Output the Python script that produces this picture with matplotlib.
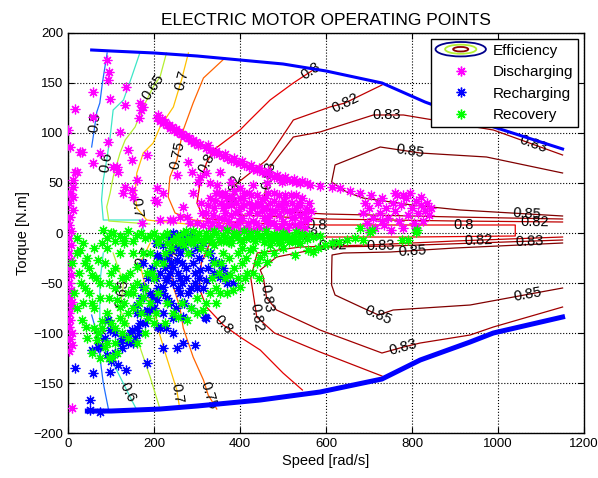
import numpy as np
import matplotlib.pyplot as plt
from matplotlib.legend_handler import HandlerBase
from matplotlib.patches import Ellipse
from matplotlib.lines import Line2D

plt.rcParams['font.family'] = ['Liberation Sans', 'DejaVu Sans']
plt.rcParams['font.size'] = 10

# ---- torque envelope [rad/s, N.m] ----
tmax_speed = [55, 100, 200, 300, 400, 500, 600, 730, 830, 990, 1150]
tmax_torque = [183, 182, 180, 177, 173, 169, 162, 150, 131, 106, 84]
tmin_speed = [45, 100, 214, 300, 447, 586, 730, 819, 935, 989, 1150]
tmin_torque = [-178, -178, -176, -173, -167, -159, -146, -127, -109, -100, -84]

# ---- efficiency contour lines (speed, torque) ----
c50_up = [(91, 180), (80, 150), (74, 130), (67, 121), (60, 100), (55, 86)]
c60_up = [(167, 180), (148, 156), (129, 133), (105, 123), (98, 96), (90, 73),
          (82, 53), (78, 33), (82, 13), (175, 13), (175, 2)]
c65_up = [(229, 180), (214, 156), (198, 146), (175, 126), (156, 106), (133, 93),
          (121, 80), (105, 56), (98, 40), (90, 26), (95, 12), (190, 9)]
c70_up = [(280, 180), (264, 153), (245, 126), (214, 106), (198, 90), (175, 80),
          (160, 60), (156, 40), (160, 25), (183, 13), (300, 8)]
c75_up = [(365, 175), (315, 155), (291, 130), (268, 103), (253, 73), (237, 56),
          (233, 36), (249, 20), (291, 13), (400, 8)]
c80_up = [(570, 163), (524, 150), (470, 133), (423, 113), (400, 103), (338, 83),
          (322, 70), (307, 50), (300, 30), (315, 15), (400, 10), (600, 8),
          (800, 8), (1040, 8), (1040, -3), (800, -4), (600, -4), (560, -3)]
c82_up = [(730, 148), (644, 130), (609, 126), (524, 113), (462, 73), (388, 48),
          (380, 30), (400, 18), (600, 14), (900, 12), (1150, 11)]
c83_up = [(1150, 78), (989, 103), (780, 118), (710, 118), (586, 101), (524, 96),
          (470, 66), (466, 56), (455, 35), (470, 22), (600, 19), (900, 16), (1150, 14)]
c85_up = [(1150, 60), (973, 76), (819, 80), (726, 86), (621, 68), (613, 51),
          (648, 41), (686, 35), (800, 28), (912, 23), (1150, 17)]

c50_dn = [(55, -82), (67, -100), (82, -150), (94, -176)]
c60_dn = [(82, -20), (74, -50), (74, -84), (82, -114), (98, -124), (148, -167), (160, -177)]
c65_dn = [(105, -20), (129, -50), (121, -77), (164, -110), (191, -144), (214, -176)]
c70_dn = [(191, -10), (175, -24), (167, -30), (183, -60), (206, -87), (210, -97),
          (229, -124), (253, -157), (260, -176)]
c75_dn = [(260, -8), (253, -14), (237, -27), (245, -54), (260, -74), (268, -95),
          (291, -124), (315, -147), (326, -162), (346, -176)]
c80_dn = [(560, -3), (450, -5), (330, -10), (310, -30), (305, -55), (322, -74),
          (361, -92), (400, -104), (447, -117), (500, -140), (545, -157)]
c82_dn = [(1150, -4), (900, -8), (700, -12), (540, -14), (440, -20), (425, -45),
          (439, -84), (480, -100), (586, -119), (730, -143)]
c83_dn = [(1150, -7), (950, -10), (750, -13), (602, -14), (485, -24), (447, -37),
          (454, -44), (462, -65), (485, -77), (586, -97), (730, -120), (780, -114),
          (819, -110), (935, -102), (989, -94), (1150, -74)]
c85_dn = [(1150, -10), (900, -15), (750, -19), (640, -20), (614, -22), (613, -40),
          (613, -52), (621, -62), (686, -75), (722, -82), (756, -77), (935, -72),
          (1036, -64), (1150, -55)]

# contour label spots (speed, torque) for each line
lab_spots = {
    'c50_up': [(67, 110)], 'c60_up': [(94, 70)], 'c65_up': [(198, 146)],
    'c70_up': [(264, 153), (160, 25)], 'c75_up': [(253, 78)],
    'c80_up': [(322, 70), (570, 158), (579, 8), (919, 8)],
    'c82_up': [(644, 130), (388, 45), (1086, 11)],
    'c83_up': [(466, 58), (741, 118), (1074, 81)],
    'c85_up': [(795, 80), (1067, 17)],
    'c50_dn': [(60, -104)], 'c60_dn': [(140, -159)], 'c65_dn': [(125, -60)],
    'c70_dn': [(253, -160), (175, -24)], 'c75_dn': [(326, -162), (245, -20)],
    'c80_dn': [(361, -92), (834, -4)],
    'c82_dn': [(439, -84), (954, -8), (614, -14)],
    'c83_dn': [(462, -65), (726, -13), (1074, -8), (779, -114)],
    'c85_dn': [(800, -18), (722, -82), (1071, -64)],
}

levels = {'c50': 0.5, 'c60': 0.6, 'c65': 0.65, 'c70': 0.7, 'c75': 0.75,
          'c80': 0.8, 'c82': 0.82, 'c83': 0.83, 'c85': 0.85}
level_colors = {0.5: '#1E6EFF', 0.6: '#3CE6C8', 0.65: '#B4F032', 0.7: '#FFC000',
                0.75: '#FF6400', 0.8: '#E60000', 0.82: '#BE0000', 0.83: '#A00000',
                0.85: '#800000'}

# ---- operating points (speed, torque) ----
discharging = [
    # left column
    (16, 124), (1, 103), (5, 86), (28, 81), (20, 61), (12, 53), (12, 46), (4, 40),
    (12, 36), (3, 30), (12, 23), (5, 16), (3, 8), (8, 2), (3, -5), (6, -12), (3, -20),
    (6, -27), (3, -35), (6, -42), (3, -50), (6, -57), (3, -64), (9, -69), (9, -74),
    (3, -80), (5, -87), (3, -94), (9, -100), (5, -106), (9, -112), (3, -118), (9, -175),
    # upper left
    (90, 173), (96, 161), (92, 153), (57, 141), (98, 134), (136, 146), (133, 128),
    (167, 130), (175, 126), (170, 123), (59, 116), (164, 115), (121, 101), (94, 91),
    (74, 80), (140, 83), (148, 73), (183, 78), (32, 81), (59, 70), (105, 66), (113, 66),
    (117, 61), (160, 53), (133, 46), (148, 43), (129, 40), (152, 36), (202, 33),
    (206, 31), (222, 40), (214, 13), (237, 13), (245, 13), (260, 16), (268, 26),
    (276, 16), (171, 10), (284, 10), (291, 40), (307, 56), (322, 60), (16, 61),
    # diagonal bands
    (206, 115), (214, 112), (222, 110), (230, 108), (238, 105), (246, 103), (254, 101),
    (262, 99), (270, 97), (278, 95), (286, 92), (294, 90), (302, 88),
    (210, 118), (218, 114), (226, 111), (234, 108), (242, 106), (250, 104), (258, 101),
    (266, 99), (274, 97), (282, 95), (290, 93), (298, 91), (306, 89),
    (322, 85), (330, 83), (340, 80), (350, 79), (360, 77), (370, 75), (380, 73),
    (390, 71), (400, 70), (410, 68), (420, 66), (430, 64), (440, 63), (450, 61),
    (460, 60), (470, 58), (480, 56), (490, 55), (500, 54), (510, 53), (520, 52),
    (530, 51), (540, 50), (555, 50), (563, 48), (586, 47), (613, 46), (633, 45),
    (656, 42), (679, 40),
    (325, 88), (345, 82), (365, 79), (385, 75), (405, 72), (425, 68), (445, 65),
    (465, 62), (485, 58), (505, 56), (525, 54), (545, 52),
    (206, 45), (253, 58), (280, 71), (288, 61), (303, 51), (353, 61), (346, 48),
    (380, 51), (497, 51), (431, 48), (462, 50), (400, 45), (330, 50), (365, 40), (420, 40),
    # main cluster
    (310, 30), (320, 20), (330, 35), (335, 10), (340, 25), (345, 40), (350, 15), (355, 30),
    (360, 5), (365, 20), (370, 35), (375, 12), (380, 28), (385, 42), (390, 8), (395, 22),
    (400, 35), (405, 15), (410, 28), (415, 5), (420, 20), (425, 38), (430, 12), (435, 28),
    (440, 20), (445, 6), (450, 34), (455, 15), (460, 25), (465, 40), (470, 10), (475, 22),
    (480, 32), (485, 5), (490, 18), (495, 28), (500, 12), (505, 38), (510, 22), (515, 8),
    (520, 30), (525, 16), (530, 25), (535, 6), (540, 18), (545, 35), (550, 12), (555, 24),
    (560, 30), (330, 5), (350, 40), (370, 3), (390, 30), (410, 40), (430, 3), (450, 22),
    (470, 30), (490, 38), (510, 3), (530, 38), (400, 3), (360, 25), (420, 30), (480, 10),
    (540, 28), (460, 5), (380, 18), (440, 38), (500, 24), (520, 15), (550, 5),
    (315, 8), (325, 28), (338, 18), (348, 8), (358, 38), (368, 28), (378, 6), (388, 20),
    (398, 12), (408, 35), (418, 10), (428, 25), (438, 10), (448, 28), (458, 35),
    (468, 18), (478, 40), (488, 28), (498, 6), (508, 30), (518, 38), (528, 8), (538, 30),
    (548, 20), (325, 12), (342, 32), (362, 14), (382, 36), (402, 26), (422, 2), (442, 30),
    (462, 12), (482, 22), (502, 32), (522, 22), (542, 10), (558, 15), (565, 22),
    (312, 20), (300, 10),
    # high speed cluster
    (686, 20), (690, 30), (695, 10), (700, 25), (705, 38), (710, 15), (715, 5), (720, 30),
    (725, 20), (730, 35), (735, 8), (740, 25), (745, 15), (750, 3), (755, 30), (760, 22),
    (765, 38), (770, 12), (775, 28), (780, 5), (785, 35), (790, 18), (795, 40), (800, 25),
    (805, 10), (810, 32), (815, 20), (820, 28), (825, 12), (830, 22), (835, 30), (840, 18),
    (845, 25), (700, 3), (760, 40), (780, 38), (810, 5), (730, 12), (820, 36),
]

recharging = [
    (245, 0), (272, -4), (237, -4), (253, -2), (268, -7), (206, -22), (206, -67),
    (198, -64), (222, -54), (229, -47), (237, -40), (245, -34), (253, -27), (260, -20),
    (268, -14), (276, -7), (284, -2), (175, -54), (291, -30), (307, -37), (322, -47),
    (338, -27), (353, -44), (369, -50), (384, -50), (322, -85), (245, -85), (268, -84),
    (229, -95), (245, -100), (222, -115), (253, -115), (268, -110), (295, -112),
    (210, -94), (183, -130), (136, -137), (117, -132), (98, -139), (59, -140), (16, -135),
    (51, -167), (51, -177), (74, -179), (55, -117), (74, -114), (98, -97), (136, -104),
    (144, -100), (148, -97), (167, -90), (94, -87), (183, -77), (183, -79), (214, -95),
    (319, -84), (129, -105), (121, -109), (70, -114), (160, -80), (190, -60), (215, -40),
    (230, -25), (260, -45), (280, -60), (300, -15), (330, -20), (240, -70), (220, -80),
    (200, -75), (160, -95), (150, -110), (110, -100), (85, -105),
    (175, -30), (185, -45), (195, -35), (205, -45), (215, -25), (225, -35), (235, -20),
    (245, -50), (255, -40), (265, -30), (275, -45), (285, -20), (295, -50), (305, -25),
    (315, -10), (325, -35), (340, -40), (350, -30), (360, -35), (370, -42), (205, -10),
    (220, -12), (260, -60), (270, -70), (250, -75), (230, -65), (210, -55), (195, -75),
    (180, -90), (165, -100), (155, -105), (140, -110), (125, -115), (110, -120),
    (100, -128), (90, -122), (170, -65), (160, -72), (285, -75), (300, -55),
    (255, -55), (265, -50), (275, -35), (285, -55), (295, -40), (305, -45), (315, -55),
    (240, -30), (250, -15), (230, -45), (220, -60), (290, -10),
]

recovery = [
    # along zero torque
    (81, 3), (100, 0), (120, -3), (140, 2), (160, -2), (180, -5), (200, 0), (220, -3),
    (267, 0), (280, -5), (290, 2), (300, -3), (310, -7), (320, 0), (330, -4), (340, 2),
    (350, -6), (360, -2), (370, 3), (380, -5), (390, -1), (400, -7), (410, 2), (420, -3),
    (430, -6), (440, 0), (450, -4), (460, 2), (470, -5), (480, -1), (490, -7), (500, 0),
    (510, -3), (520, -6), (530, 1), (540, -4), (560, -2), (586, -3),
    (90, -5), (110, -8), (130, -5), (150, -8), (170, 0), (190, -3), (210, -6), (230, 0),
    (245, -8), (255, -3), (265, -8), (275, 2), (285, -9), (295, -6), (305, 0), (315, -9),
    (325, -5), (335, -9), (345, 0), (355, -8), (365, -4), (375, -9), (385, 0), (395, -4),
    (405, -9), (415, -5), (425, 0), (435, -8), (445, -3), (455, -9), (465, -2),
    (475, -8), (485, -4), (495, -9), (505, -5), (515, -9), (525, -3), (535, -8),
    (545, -1), (555, -6), (570, -4),
    (497, -2), (512, -5), (528, -9), (528, -22), (559, -17), (570, -19), (582, -15),
    (598, -12), (613, -10), (629, -9), (648, -7), (667, -5), (687, -7), (706, 3),
    (679, 5), (776, -7), (791, -7), (811, 3), (702, 1), (810, 1),
    # mid cloud
    (423, -17), (447, -24), (462, -29), (416, -40), (412, -45), (400, -54), (404, -30),
    (501, -15), (540, -10), (377, -42), (384, -57), (353, -60), (315, -77), (276, -87),
    (256, -84), (340, -30), (360, -20), (380, -10), (350, -40),
    (330, -60), (230, -70), (300, -65), (280, -20),
    (260, -10), (240, -15), (220, -30), (200, -45), (210, -60), (190, -70), (170, -80),
    (150, -75),
    (210, -10), (225, -20), (325, -20), (335, -45), (345, -55), (355, -30),
    (365, -45), (375, -25), (385, -35), (395, -20), (405, -15), (415, -25), (430, -15),
    (440, -30), (455, -20), (470, -12), (480, -20), (490, -10), (430, -40), (445, -45),
    (395, -45), (370, -60), (345, -70), (320, -70), (300, -80), (285, -75), (265, -70),
    (245, -80), (225, -90), (205, -80),
    (310, -15), (340, -12), (360, -8), (230, -10), (250, -5), (270, -12), (290, -10),
    (320, -5),
    # low speed cloud
    (28, -17), (40, -30), (55, -42), (70, -27), (74, -50), (113, -67), (121, -74),
    (32, -87), (43, -94), (67, -107), (86, -114), (102, -124), (136, -44), (152, -54),
    (175, -64), (160, -34), (183, -40), (175, -20), (105, 0), (20, -5), (30, -50),
    (50, -60), (90, -80), (60, -75), (100, -40), (120, -20), (140, -60), (80, -10),
    (10, -30), (15, -60), (130, -90), (110, -95),
    (20, -20), (35, -10), (45, -25), (60, -15), (25, -40), (50, -35), (65, -45),
    (85, -30), (95, -50), (110, -35), (125, -45), (145, -40), (160, -50), (180, -55),
    (195, -40), (205, -30), (190, -20), (150, -20), (130, -10), (90, -15), (40, -55),
    (55, -70), (75, -65), (95, -65), (110, -55), (130, -70), (150, -60), (165, -70),
    (185, -85), (200, -90), (140, -80), (120, -85), (100, -90), (80, -95), (60, -95),
    (45, -105), (70, -100), (90, -110), (110, -110), (125, -100), (140, -105),
    (55, -120), (75, -125), (95, -125), (115, -120), (80, -88), (35, -70), (20, -75),
    (160, -110), (180, -100),
]


class EfficiencyHandle:
    pass


class HandlerEfficiency(HandlerBase):
    def create_artists(self, legend, orig_handle, xdescent, ydescent,
                       width, height, fontsize, trans):
        cx = width / 2 - xdescent
        cy = height / 2 - ydescent
        rings = [(1.0, 1.35, '#00008B'), (0.62, 0.85, '#B4F032'), (0.3, 0.42, '#8B0000')]
        arts = []
        for fw, fh, col in rings:
            e = Ellipse((cx, cy), width * fw, height * fh, fill=False,
                        edgecolor=col, linewidth=1.3, transform=trans)
            arts.append(e)
        return arts


def label_line(ax, pts, spot, text):
    """put a contour label on the polyline closest to spot, rotated with it"""
    pts = np.asarray(pts, dtype=float)
    p = np.asarray(spot, dtype=float)
    best = None
    for a, b in zip(pts[:-1], pts[1:]):
        d = b - a
        # distance measured in display space so speed/torque scales match
        da = ax.transData.transform(a)
        db = ax.transData.transform(b)
        dp = ax.transData.transform(p)
        seg = db - da
        t = np.clip(np.dot(dp - da, seg) / max(np.dot(seg, seg), 1e-9), 0, 1)
        q = da + t * seg
        dist = np.hypot(*(dp - q))
        if best is None or dist < best[0]:
            best = (dist, a + t * d, seg)
    _, pos, seg = best
    ang = np.degrees(np.arctan2(seg[1], seg[0]))
    if ang > 90:
        ang -= 180
    elif ang < -90:
        ang += 180
    ax.text(pos[0], pos[1], text, rotation=ang, rotation_mode='anchor',
            ha='center', va='center', fontsize=10.5, zorder=2.5)


fig = plt.figure(figsize=(5.98, 4.78), dpi=100)
ax = fig.add_axes([0.1137, 0.0941, 0.863, 0.8369])
ax.set_xlim(0, 1200)
ax.set_ylim(-200, 200)

contours = {
    'c50_up': c50_up, 'c60_up': c60_up, 'c65_up': c65_up, 'c70_up': c70_up,
    'c75_up': c75_up, 'c80_up': c80_up, 'c82_up': c82_up, 'c83_up': c83_up,
    'c85_up': c85_up, 'c50_dn': c50_dn, 'c60_dn': c60_dn, 'c65_dn': c65_dn,
    'c70_dn': c70_dn, 'c75_dn': c75_dn, 'c80_dn': c80_dn, 'c82_dn': c82_dn,
    'c83_dn': c83_dn, 'c85_dn': c85_dn,
}
for name, pts in contours.items():
    lev = levels[name[:3]]
    xs, ys = zip(*pts)
    ax.plot(xs, ys, color=level_colors[lev], linewidth=0.9, zorder=2)
    for spot in lab_spots.get(name, []):
        label_line(ax, pts, spot, f'{lev:g}')

ax.plot(tmax_speed, tmax_torque, color='#0000FF', linewidth=2.2, zorder=3)
ax.plot(tmin_speed, tmin_torque, color='#0000FF', linewidth=3.6, zorder=3)

star = (8, 2, 0)
for pts, col in [(discharging, '#FF00FF'), (recharging, '#0000FF'), (recovery, '#00FF00')]:
    xs, ys = zip(*pts)
    ax.plot(xs, ys, linestyle='none', marker=star, markersize=7,
            markeredgewidth=0.9, color=col, zorder=4)

ax.set_title('ELECTRIC MOTOR OPERATING POINTS', fontsize=12.5, pad=6)
ax.set_xlabel('Speed [rad/s]', fontsize=10.5, labelpad=3)
ax.set_ylabel('Torque [N.m]', fontsize=10.5, labelpad=2)
ax.set_xticks(range(0, 1201, 200))
ax.set_yticks(range(-200, 201, 50))
ax.tick_params(direction='in', top=True, right=True, length=4, labelsize=9.5)
ax.grid(True, linestyle=':', color='black', linewidth=0.8)
ax.set_axisbelow(True)
for s in ax.spines.values():
    s.set_linewidth(1.0)

handles = [EfficiencyHandle(),
           Line2D([], [], linestyle='none', marker=star, markersize=7, color='#FF00FF'),
           Line2D([], [], linestyle='none', marker=star, markersize=7, color='#0000FF'),
           Line2D([], [], linestyle='none', marker=star, markersize=7, color='#00FF00')]
leg = ax.legend(handles, ['Efficiency', 'Discharging', 'Recharging', 'Recovery'],
                handler_map={EfficiencyHandle: HandlerEfficiency()},
                loc='upper right', bbox_to_anchor=(0.988, 0.985), borderaxespad=0,
                fancybox=False, edgecolor='black', framealpha=1, fontsize=11,
                handlelength=3.3, handletextpad=0.45, labelspacing=0.5,
                borderpad=0.3)
leg.get_frame().set_linewidth(1.0)
leg.set_zorder(10)

fig.savefig('out.png', dpi=100)
